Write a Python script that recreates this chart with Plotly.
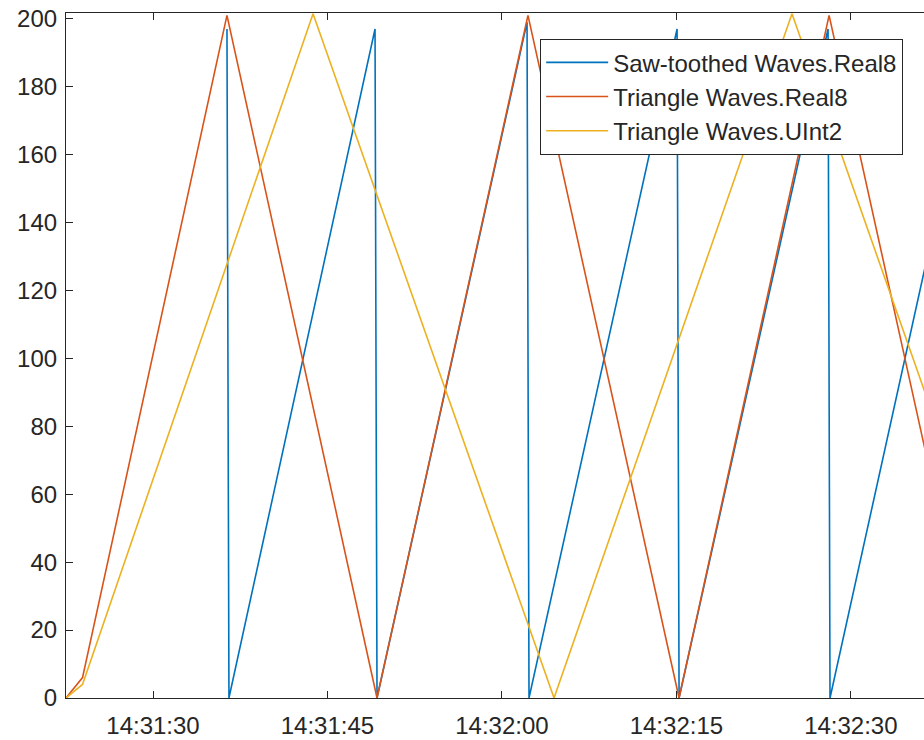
import plotly.graph_objects as go

# Saw-toothed Waves.Real8
saw_time = [
    "2024-01-01 14:31:36.36", "2024-01-01 14:31:36.53",
    "2024-01-01 14:31:49.09", "2024-01-01 14:31:49.26",
    "2024-01-01 14:32:02.16", "2024-01-01 14:32:02.33",
    "2024-01-01 14:32:15.06", "2024-01-01 14:32:15.23",
    "2024-01-01 14:32:28.04", "2024-01-01 14:32:28.21",
    "2024-01-01 14:32:40.90",
]
saw_values = [197, 0, 197, 0, 199, 0, 197, 0, 197, 0, 197]

# Triangle Waves.Real8
tri_real_time = [
    "2024-01-01 14:31:22.52", "2024-01-01 14:31:23.94",
    "2024-01-01 14:31:36.36", "2024-01-01 14:31:49.26",
    "2024-01-01 14:32:02.24", "2024-01-01 14:32:15.23",
    "2024-01-01 14:32:28.13", "2024-01-01 14:32:41.10",
]
tri_real_values = [0, 6, 201, 0, 201, 0, 201, 0]

# Triangle Waves.UInt2
tri_uint_time = [
    "2024-01-01 14:31:22.52", "2024-01-01 14:31:23.94",
    "2024-01-01 14:31:43.76", "2024-01-01 14:32:04.48",
    "2024-01-01 14:32:24.94", "2024-01-01 14:32:45.60",
]
tri_uint_values = [0, 4, 201.5, 0, 201.5, 0]

x_range = ["2024-01-01 14:31:22.52", "2024-01-01 14:32:36.29"]
y_ticks = list(range(0, 201, 20))

TEXT = "#262626"
FONT = "Arial, Liberation Sans, sans-serif"

fig = go.Figure()
series = [
    ("Saw-toothed Waves.Real8", saw_time, saw_values, "#0072BD"),
    ("Triangle Waves.Real8", tri_real_time, tri_real_values, "#D95319"),
    ("Triangle Waves.UInt2", tri_uint_time, tri_uint_values, "#EDB120"),
]
for name, t, v, color in series:
    fig.add_trace(go.Scatter(
        x=t, y=v, mode="lines", name=name,
        line=dict(color=color, width=1.6),
    ))

fig.update_layout(
    width=924,
    height=740,
    margin=dict(l=66, r=0, t=13, b=42, autoexpand=False),
    plot_bgcolor="white",
    paper_bgcolor="white",
    font=dict(family=FONT, size=24, color=TEXT),
    legend=dict(
        x=0.5524, y=0.962, xanchor="left", yanchor="top",
        bgcolor="white", bordercolor=TEXT, borderwidth=1.2,
        font=dict(size=24, color=TEXT),
        itemwidth=62,
    ),
)
fig.update_xaxes(
    type="date",
    range=x_range,
    tickformat="%H:%M:%S",
    tick0="2024-01-01 14:31:00",
    dtick=15000,
    automargin=False,
    showgrid=False,
    zeroline=False,
    showline=True,
    linecolor=TEXT,
    linewidth=1.2,
    mirror="ticks",
    ticks="inside",
    ticklen=7,
    tickcolor=TEXT,
    ticklabelstandoff=6,
    tickfont=dict(size=24, color=TEXT),
)
fig.update_yaxes(
    range=[0, 201.7],
    tickvals=y_ticks,
    automargin=False,
    showgrid=False,
    zeroline=False,
    showline=True,
    linecolor=TEXT,
    linewidth=1.2,
    ticks="inside",
    ticklen=7,
    tickcolor=TEXT,
    ticklabelstandoff=3,
    tickfont=dict(size=24, color=TEXT),
)

# page body has a default 8px margin; drop it so the figure fills the window
fig.write_html(
    "out.html",
    config={"displayModeBar": False},
    post_script="document.body.style.margin='0'; document.body.style.overflow='hidden';",
)
